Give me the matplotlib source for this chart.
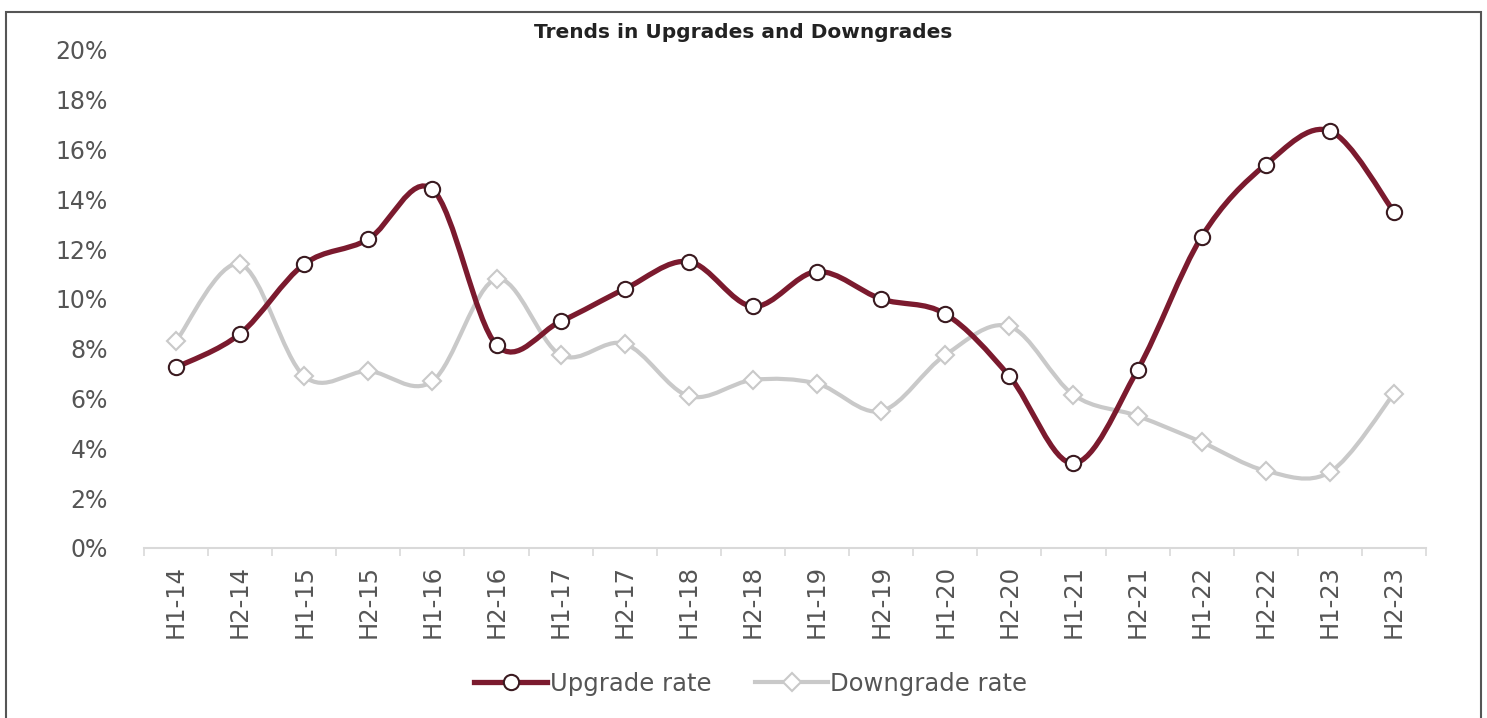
import numpy as np
import matplotlib
matplotlib.use("Agg")
import matplotlib.pyplot as plt
from matplotlib.path import Path
from matplotlib.patches import PathPatch, Rectangle
from matplotlib.lines import Line2D
from matplotlib.ticker import FuncFormatter, FixedLocator

# data
periods = ["H1-14", "H2-14", "H1-15", "H2-15", "H1-16", "H2-16", "H1-17", "H2-17",
           "H1-18", "H2-18", "H1-19", "H2-19", "H1-20", "H2-20", "H1-21", "H2-21",
           "H1-22", "H2-22", "H1-23", "H2-23"]
upgrade = [7.25, 8.6, 11.4, 12.4, 14.4, 8.15, 9.1, 10.4, 11.5, 9.7,
           11.1, 10.0, 9.4, 6.9, 3.4, 7.15, 12.5, 15.4, 16.75, 13.5]
downgrade = [8.3, 11.4, 6.9, 7.1, 6.7, 10.8, 7.75, 8.2, 6.1, 6.75,
             6.6, 5.5, 7.75, 8.9, 6.15, 5.3, 4.25, 3.1, 3.05, 6.2]

UP_COL = "#7b1a2e"
DOWN_COL = "#c9c9c9"
TXT_COL = "#555555"


# Excel style smoothed line: cubic bezier segments through every point
def smooth_path(x, y, k=1 / 6):
    x = np.asarray(x, float)
    y = np.asarray(y, float)
    verts = [(x[0], y[0])]
    codes = [Path.MOVETO]
    n = len(x)
    for i in range(n - 1):
        x0, y0 = (x[i - 1], y[i - 1]) if i > 0 else (x[i], y[i])
        x3, y3 = (x[i + 2], y[i + 2]) if i + 2 < n else (x[i + 1], y[i + 1])
        c1 = (x[i] + (x[i + 1] - x0) * k, y[i] + (y[i + 1] - y0) * k)
        c2 = (x[i + 1] - (x3 - x[i]) * k, y[i + 1] - (y3 - y[i]) * k)
        verts += [c1, c2, (x[i + 1], y[i + 1])]
        codes += [Path.CURVE4] * 3
    return Path(verts, codes)


fig = plt.figure(figsize=(14.87, 7.18), dpi=100)
ax = fig.add_axes([0.0968, 0.2368, 0.8622, 0.6936])

xs = np.arange(len(periods))

ax.add_patch(PathPatch(smooth_path(xs, downgrade), facecolor="none",
                       edgecolor=DOWN_COL, lw=3.0, capstyle="round", zorder=2))
ax.plot(xs, downgrade, ls="none", marker="D", ms=9, mfc="white",
        mec=DOWN_COL, mew=1.5, zorder=3)

ax.add_patch(PathPatch(smooth_path(xs, upgrade), facecolor="none",
                       edgecolor=UP_COL, lw=3.8, capstyle="round", zorder=4))
ax.plot(xs, upgrade, ls="none", marker="o", ms=11, mfc="white",
        mec="#3a1a20", mew=1.5, zorder=5)

ax.set_xlim(-0.5, len(periods) - 0.5)
ax.set_ylim(0, 20)
ax.set_yticks(np.arange(0, 21, 2))
ax.yaxis.set_major_formatter(FuncFormatter(lambda v, p: f"{v:.0f}%"))

ax.set_xticks(xs)
ax.set_xticklabels(periods, rotation=90)
ax.xaxis.set_minor_locator(FixedLocator(np.arange(-0.5, len(periods), 1)))
ax.tick_params(axis="x", which="major", length=0, pad=12, labelsize=17.5, labelcolor=TXT_COL)
ax.tick_params(axis="x", which="minor", length=6, width=1.2, color="#d9d9d9")
ax.tick_params(axis="y", length=0, pad=26, labelsize=17, labelcolor=TXT_COL)

for s in ["top", "right", "left"]:
    ax.spines[s].set_visible(False)
ax.spines["bottom"].set_color("#d9d9d9")
ax.spines["bottom"].set_linewidth(1.5)

handles = [
    Line2D([], [], color=UP_COL, lw=3.8, marker="o", ms=11, mfc="white", mec="#3a1a20", mew=1.5),
    Line2D([], [], color=DOWN_COL, lw=3.0, marker="D", ms=9, mfc="white", mec=DOWN_COL, mew=1.5),
]
fig.legend(handles, ["Upgrade rate", "Downgrade rate"], loc="center",
           bbox_to_anchor=(0.505, 0.048), ncol=2, frameon=False, fontsize=17.5,
           labelcolor=TXT_COL, handlelength=3.0, handletextpad=0.1, columnspacing=1.8)

fig.text(0.5, 0.955, "Trends in Upgrades and Downgrades", ha="center", va="center",
         fontsize=14.5, fontweight="bold", color="#222222")

# thin outer frame
fig.patches.append(Rectangle((0.004, -0.05), 0.992, 1.033, transform=fig.transFigure,
                             fill=False, ec="#555555", lw=1.5))

fig.savefig("out.png", dpi=100, facecolor="white")
